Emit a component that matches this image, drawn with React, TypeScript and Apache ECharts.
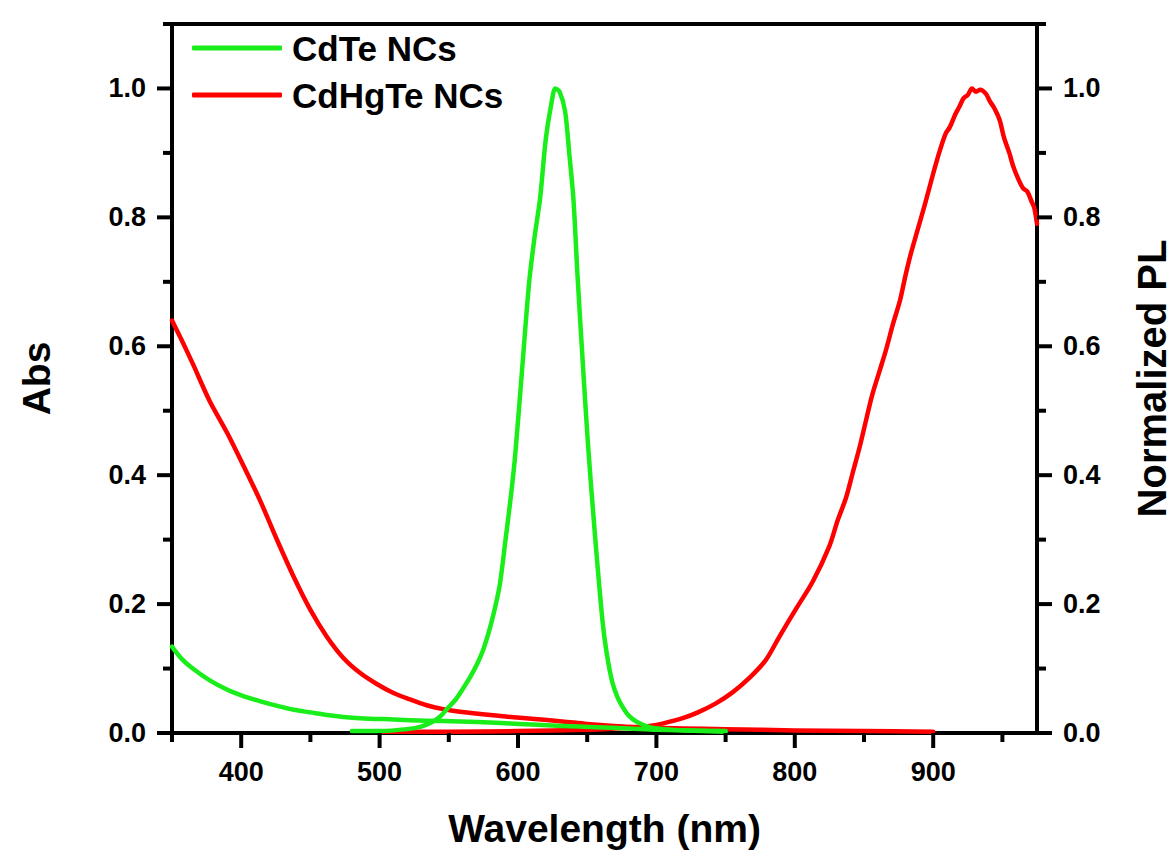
import React, { useEffect, useRef } from "react";
import * as echarts from "echarts";

// ---- data ----
const cdteAbsWl = [350, 357, 365, 377, 390, 402, 414, 426, 438, 450, 462, 474, 486, 510, 534, 558, 584, 610, 632, 656, 680, 700, 725, 750];
const cdteAbs = [0.134, 0.115, 0.1, 0.082, 0.067, 0.057, 0.049, 0.042, 0.036, 0.032, 0.028, 0.025, 0.023, 0.021, 0.019, 0.018, 0.016, 0.013, 0.011, 0.009, 0.007, 0.005, 0.004, 0.003];

const cdtePlWl = [480, 500, 520, 530, 538, 544, 549, 555, 560, 565, 570, 575, 580, 584, 587, 591, 595, 598, 603, 608, 612, 616, 620, 624, 627, 630, 634, 637, 640, 643, 646.5, 650.5, 655.5, 661, 664, 668, 672, 676, 680, 686, 695, 705, 720, 750];
const cdtePl = [0.003, 0.003, 0.006, 0.01, 0.017, 0.026, 0.038, 0.052, 0.068, 0.085, 0.105, 0.13, 0.165, 0.2, 0.232, 0.3, 0.37, 0.432, 0.565, 0.698, 0.77, 0.83, 0.92, 0.975, 1.0, 0.995, 0.965, 0.9, 0.83, 0.71, 0.585, 0.45, 0.31, 0.175, 0.125, 0.08, 0.055, 0.039, 0.027, 0.017, 0.009, 0.006, 0.004, 0.002];

const cdhgteAbsWl = [350, 358, 365, 377, 390, 402, 414, 426, 438, 450, 462, 474, 486, 498, 510, 522, 534, 546, 558, 584, 610, 632, 650, 669, 690, 720, 750, 800, 850, 900];
const cdhgteAbs = [0.64, 0.605, 0.573, 0.516, 0.465, 0.413, 0.359, 0.299, 0.242, 0.191, 0.149, 0.116, 0.093, 0.076, 0.062, 0.052, 0.043, 0.037, 0.033, 0.027, 0.022, 0.018, 0.014, 0.011, 0.009, 0.007, 0.006, 0.004, 0.003, 0.002];

const cdhgtePlWl = [500, 550, 600, 650, 670, 685, 695, 705, 719, 730, 743, 755, 767, 779, 789, 801, 813, 825, 831, 837, 842, 847, 852, 856, 861, 866, 871, 876, 880, 884, 888, 894, 900, 905, 909, 912, 916, 919, 922, 925, 928, 931, 934, 938, 941, 944, 948, 951, 955, 958, 962, 965, 968, 971, 973, 975];
const cdhgtePl = [0.002, 0.002, 0.003, 0.005, 0.007, 0.009, 0.011, 0.015, 0.023, 0.032, 0.046, 0.063, 0.085, 0.113, 0.15, 0.193, 0.235, 0.29, 0.33, 0.365, 0.405, 0.445, 0.49, 0.525, 0.56, 0.595, 0.635, 0.671, 0.71, 0.745, 0.775, 0.82, 0.868, 0.905, 0.93, 0.94, 0.96, 0.972, 0.985, 0.99, 1.0, 0.995, 0.998, 0.992, 0.98, 0.97, 0.951, 0.925, 0.9, 0.878, 0.857, 0.845, 0.84, 0.825, 0.815, 0.79];

const xMajorTicks = [400, 500, 600, 700, 800, 900];
const xMinorTicks = [350, 450, 550, 650, 750, 850, 950];
const yMajorTicks = [0, 0.2, 0.4, 0.6, 0.8, 1.0];
const yMinorTicks = [0.1, 0.3, 0.5, 0.7, 0.9, 1.1];

const X_MIN = 350;
const X_MAX = 975;
const Y_MIN = 0;
const Y_MAX = 1.1;

const seriesNames = ["CdTe NCs", "CdHgTe NCs"];
const GREEN = "#1aee1a";
const RED = "#ff0000";
const FONT = "'Liberation Sans', Arial, sans-serif";
const AX = "#000";
const AXW = 4;
const MAJOR_LEN = 15;
const MINOR_LEN = 9;

const pairs = (xs: number[], ys: number[]) => xs.map((x, i) => [x, ys[i]]);

const labelStyle = {
  fontFamily: FONT,
  fontWeight: "bold" as const,
  fontSize: 27,
  color: "#000",
};
const nameStyle = (size: number) => ({
  fontFamily: FONT,
  fontWeight: "bold" as const,
  fontSize: size,
  color: "#000",
});

export default function App() {
  const ref = useRef<HTMLDivElement>(null);
  useEffect(() => {
    const chart = echarts.init(ref.current!, null, { renderer: "svg" });
    const line = (name: string, color: string, data: number[][], yAxisIndex: number) => ({
      name,
      type: "line",
      xAxisIndex: 0,
      yAxisIndex,
      data,
      color,
      showSymbol: false,
      symbol: "none",
      smooth: 0.3,
      lineStyle: { width: 4.5, color, cap: "round", join: "round" },
      z: name === seriesNames[0] ? 3 : 2,
    });
    const xBase = { type: "value", gridIndex: 0, min: X_MIN, max: X_MAX, interval: 50, splitLine: { show: false } };
    const yBase = { type: "value", gridIndex: 0, min: Y_MIN, max: Y_MAX, interval: 0.1, splitLine: { show: false } };
    const yLabel = {
      show: true,
      margin: 26,
      customValues: yMajorTicks,
      formatter: (v: number) => v.toFixed(1),
      ...labelStyle,
    };
    chart.setOption({
      animation: false,
      backgroundColor: "#fff",
      grid: { left: 172, right: 136, top: 24, bottom: 123, containLabel: false, outerBoundsMode: "none" },
      legend: {
        data: seriesNames,
        orient: "vertical",
        left: 187,
        top: 23,
        padding: 5,
        icon: "roundRect",
        itemWidth: 90,
        itemHeight: 5,
        itemGap: 7,
        textStyle: {
          fontFamily: FONT,
          fontWeight: "bold",
          fontSize: 35,
          lineHeight: 40,
          color: "#000",
          padding: [0, 0, 0, 5],
        },
      },
      xAxis: [
        {
          ...xBase,
          position: "bottom",
          axisLine: { show: true, onZero: false, lineStyle: { color: AX, width: AXW } },
          axisTick: { show: false },
          axisLabel: { show: true, margin: 25, customValues: xMajorTicks, ...labelStyle },
          name: "Wavelength (nm)",
          nameLocation: "middle",
          nameGap: 76,
          nameTextStyle: nameStyle(39),
        },
        {
          ...xBase,
          position: "top",
          axisLine: { show: true, onZero: false, lineStyle: { color: AX, width: AXW } },
          axisTick: { show: false },
          axisLabel: { show: false },
        },
      ],
      yAxis: [
        {
          ...yBase,
          position: "left",
          axisLine: { show: true, onZero: false, lineStyle: { color: AX, width: AXW } },
          axisTick: { show: false },
          axisLabel: yLabel,
          name: "Abs",
          nameLocation: "middle",
          nameRotate: 90,
          nameGap: 116,
          nameTextStyle: nameStyle(39),
        },
        {
          ...yBase,
          position: "right",
          axisLine: { show: true, onZero: false, lineStyle: { color: AX, width: AXW } },
          axisTick: { show: false },
          axisLabel: yLabel,
          name: "Normalized PL",
          nameLocation: "middle",
          nameRotate: 90,
          nameGap: 95,
          nameTextStyle: nameStyle(40),
        },
      ],
      series: [
        line(seriesNames[0], GREEN, pairs(cdteAbsWl, cdteAbs), 0),
        line(seriesNames[1], RED, pairs(cdhgteAbsWl, cdhgteAbs), 0),
        line(seriesNames[0], GREEN, pairs(cdtePlWl, cdtePl), 1),
        line(seriesNames[1], RED, pairs(cdhgtePlWl, cdhgtePl), 1),
      ],
    });

    // tick marks placed through the chart's own scales
    const toPx = (x: number, y: number) =>
      chart.convertToPixel({ xAxisIndex: 0, yAxisIndex: 0 }, [x, y]) as number[];
    const tickLine = (x1: number, y1: number, x2: number, y2: number) => ({
      type: "line",
      silent: true,
      z: 100,
      shape: { x1, y1, x2, y2 },
      style: { stroke: AX, lineWidth: 4 },
    });
    const ticks: any[] = [];
    xMajorTicks.forEach((v) => { const p = toPx(v, Y_MIN); ticks.push(tickLine(p[0], p[1], p[0], p[1] + MAJOR_LEN)); });
    xMinorTicks.forEach((v) => { const p = toPx(v, Y_MIN); ticks.push(tickLine(p[0], p[1], p[0], p[1] + MINOR_LEN)); });
    yMajorTicks.forEach((v) => {
      const a = toPx(X_MIN, v); const b = toPx(X_MAX, v);
      ticks.push(tickLine(a[0], a[1], a[0] - MAJOR_LEN, a[1]));
      ticks.push(tickLine(b[0], b[1], b[0] + MAJOR_LEN, b[1]));
    });
    yMinorTicks.forEach((v) => {
      const a = toPx(X_MIN, v); const b = toPx(X_MAX, v);
      ticks.push(tickLine(a[0], a[1], a[0] - MINOR_LEN, a[1]));
      ticks.push(tickLine(b[0], b[1], b[0] + MINOR_LEN, b[1]));
    });
    chart.setOption({ graphic: { elements: ticks } });

    return () => chart.dispose();
  }, []);
  return <div ref={ref} style={{ position: "fixed", left: 0, top: 0, width: 1173, height: 856 }} />;
}
